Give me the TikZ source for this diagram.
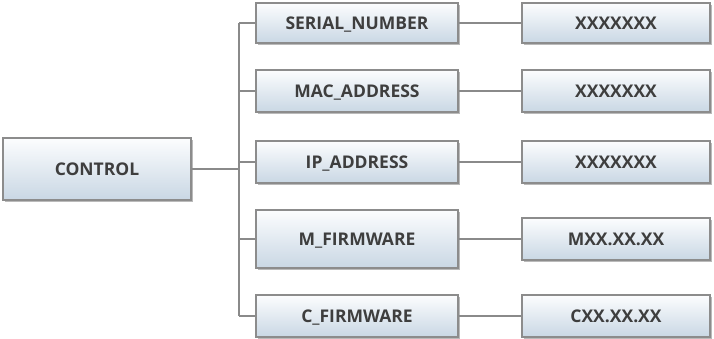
\documentclass[tikz,border=0pt]{standalone}
\usepackage{fontspec}
\setmainfont{Open Sans}
\usetikzlibrary{shadows}
\definecolor{boxtop}{HTML}{FCFDFE}
\definecolor{boxbot}{HTML}{C9D7E4}
\definecolor{boxedge}{HTML}{8C8C8C}
\definecolor{linec}{HTML}{8A8A8A}
\definecolor{txt}{HTML}{3E3E3E}
\tikzset{
  box/.style={draw=boxedge, line width=1.2pt, top color=boxtop, bottom color=boxbot,
    drop shadow={shadow xshift=1.5pt, shadow yshift=-2pt, fill=black!45, opacity=0.6},
    minimum width=#1, inner sep=0pt, text depth=0pt,
    font=\fontsize{17.5}{20}\selectfont\bfseries, text=txt},
  conn/.style={draw=linec, line width=1.6pt}
}
\begin{document}
\begin{tikzpicture}[x=1pt,y=-1pt]
\useasboundingbox (0,0) rectangle (714,339);
\node[box=188pt, minimum height=62pt] (ctrl) at (97,169) {CONTROL};
\node[box=202pt, minimum height=40pt] (sn) at (357,23) {SERIAL\_NUMBER};
\node[box=202pt, minimum height=42pt] (mac) at (357,91) {MAC\_ADDRESS};
\node[box=202pt, minimum height=42pt] (ip) at (357,162) {IP\_ADDRESS};
\node[box=202pt, minimum height=58pt] (mfw) at (357,239) {M\_FIRMWARE};
\node[box=202pt, minimum height=42pt] (cfw) at (357,316) {C\_FIRMWARE};
\node[box=188pt, minimum height=40pt] (vsn) at (616,23) {XXXXXXX};
\node[box=188pt, minimum height=42pt] (vmac) at (616,91) {XXXXXXX};
\node[box=188pt, minimum height=42pt] (vip) at (616,162) {XXXXXXX};
\node[box=188pt, minimum height=42pt] (vmfw) at (616,239) {MXX.XX.XX};
\node[box=188pt, minimum height=42pt] (vcfw) at (616,316) {CXX.XX.XX};
\coordinate (ttop) at (239,23);
\coordinate (tbot) at (239,316);
\coordinate (tmid) at (239,169);
\draw[conn] (ttop) -- (tbot);
\draw[conn] (ctrl.east) -- (tmid);
\foreach \n in {sn,mac,ip,mfw,cfw}{
  \draw[conn] (\n.west -| ttop) -- (\n.west);
}
\draw[conn] (sn) -- (vsn);
\draw[conn] (mac) -- (vmac);
\draw[conn] (ip) -- (vip);
\draw[conn] (mfw) -- (vmfw);
\draw[conn] (cfw) -- (vcfw);
\end{tikzpicture}
\end{document}
